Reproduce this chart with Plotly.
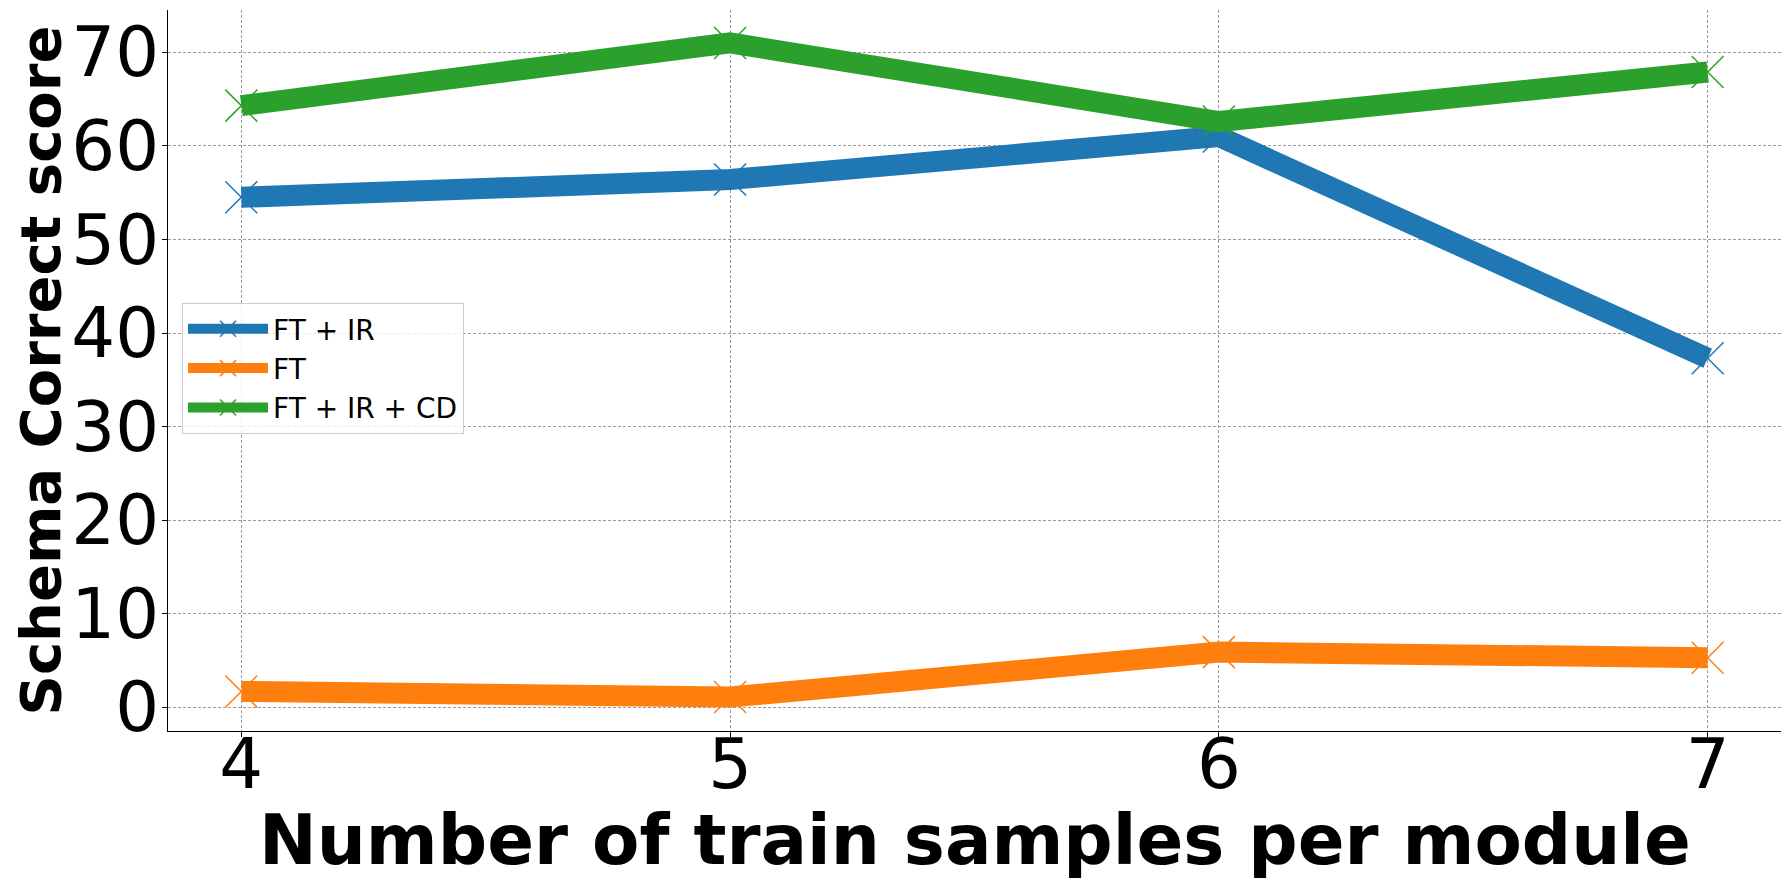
import plotly.graph_objects as go

# data
samples = [4, 5, 6, 7]
ft_ir = [54.5, 56.4, 61.0, 37.3]
ft = [1.7, 1.1, 5.9, 5.3]
ft_ir_cd = [64.3, 71.0, 62.6, 67.9]

series_names = ["FT + IR", "FT", "FT + IR + CD"]
series_values = [ft_ir, ft, ft_ir_cd]
colors = ["#1f77b4", "#ff7f0e", "#2ca02c"]

FONT = "DejaVu Sans"

fig = go.Figure()
for name, vals, col in zip(series_names, series_values, colors):
    fig.add_trace(go.Scatter(
        x=samples, y=vals, name=name, mode="lines+markers",
        line=dict(color=col, width=21),
        marker=dict(symbol="x-thin", size=32, color=col,
                    line=dict(color=col, width=1.5)),
    ))

# page body has an 8px margin, so the figure is a bit smaller than the window
fig.update_layout(
    width=1782, height=882,
    margin=dict(l=160, r=9, t=2, b=159),
    paper_bgcolor="white", plot_bgcolor="white",
    font=dict(family=FONT, color="black"),
    showlegend=True,
    legend=dict(
        x=0.0087, y=0.5936, xanchor="left", yanchor="top",
        bgcolor="rgba(255,255,255,0.8)", bordercolor="#cccccc", borderwidth=1,
        font=dict(family=FONT, size=28),
        tracegroupgap=0, itemwidth=80,
    ),
)

grid = dict(showgrid=True, gridcolor="#999999", griddash="3px,2px", gridwidth=0.8)

fig.update_xaxes(
    range=[3.85, 7.15], tickvals=samples, ticktext=[str(s) for s in samples],
    tickfont=dict(family=FONT, size=69),
    ticks="outside", ticklen=5, tickcolor="black", ticklabelstandoff=-32,
    showline=True, linecolor="black", linewidth=1.2, mirror=False,
    zeroline=False, automargin=False, **grid,
)
fig.update_yaxes(
    range=[-2.53, 74.52], tickvals=list(range(0, 71, 10)),
    tickfont=dict(family=FONT, size=69),
    ticks="outside", ticklen=5, tickcolor="black", ticklabelstandoff=-11,
    showline=True, linecolor="black", linewidth=1.2, mirror=False,
    zeroline=False, automargin=False, **grid,
    title=dict(text="<b>Schema Correct score</b>",
               font=dict(family=FONT, size=56), standoff=17),
)

# x axis title as an annotation so it can sit closer to the tick labels
fig.add_annotation(
    text="<b>Number of train samples per module</b>",
    xref="paper", yref="paper", x=0.5, y=-0.151,
    xanchor="center", yanchor="middle", showarrow=False,
    font=dict(family=FONT, size=69),
)

fig.write_html("out.html")
